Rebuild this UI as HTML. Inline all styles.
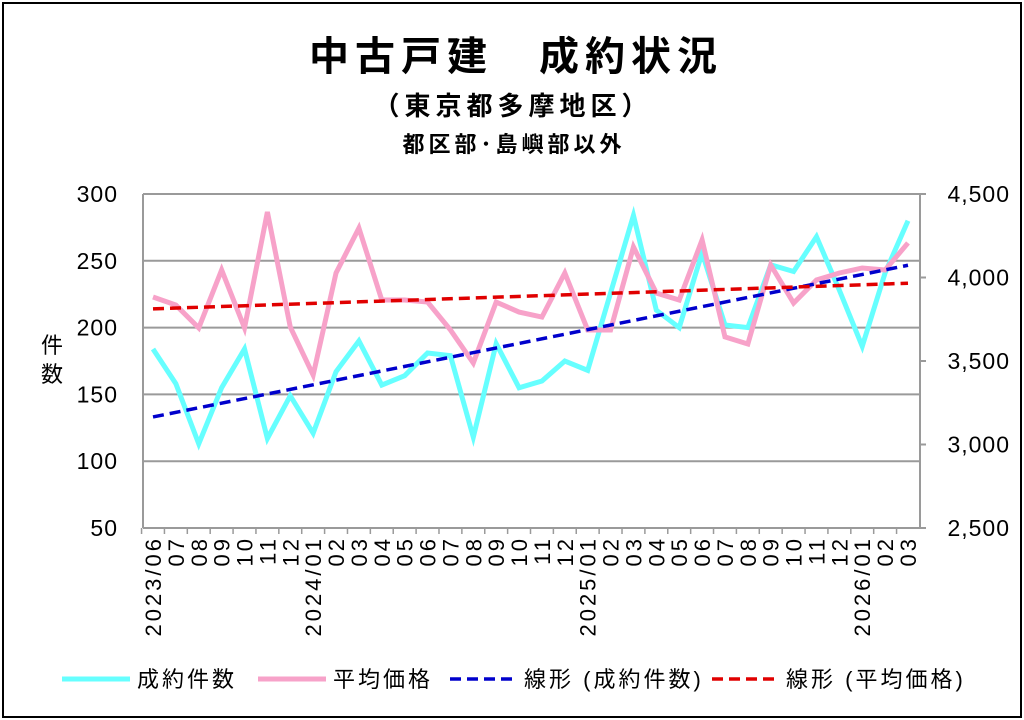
<!DOCTYPE html>
<html><head><meta charset="utf-8">
<style>
html,body{margin:0;padding:0;background:#fff}
body{width:1024px;height:720px;overflow:hidden;font-family:"Liberation Sans","Noto Sans CJK JP",sans-serif}
#frame{position:absolute;left:2px;top:2px;width:1016px;height:712px;border:2px solid #000}
</style></head>
<body>
<div id="frame"></div>
<svg id="chart" width="1024" height="720" style="position:absolute;left:0;top:0"
 font-family="Liberation Sans, Noto Sans CJK JP, sans-serif">
<text x="516" y="70" text-anchor="middle" font-size="40" font-weight="bold" letter-spacing="6">中古戸建　成約状況</text>
<text x="513" y="115" text-anchor="middle" font-size="26" font-weight="bold" letter-spacing="5">（東京都多摩地区）</text>
<text x="514" y="152" text-anchor="middle" font-size="22" font-weight="bold" letter-spacing="4">都区部･島嶼部以外</text>
<text x="52" y="353" text-anchor="middle" font-size="22">件</text>
<text x="52" y="382" text-anchor="middle" font-size="22">数</text>
<g id="grid"></g><g id="axes"></g><g id="series"></g>
<g id="legend" font-size="22" letter-spacing="3">
 <line x1="62" y1="679" x2="130" y2="679" stroke="#66ffff" stroke-width="5"/>
 <text x="137" y="687">成約件数</text>
 <line x1="258" y1="679" x2="326" y2="679" stroke="#f7a2c9" stroke-width="5"/>
 <text x="333" y="687">平均価格</text>
 <line x1="450" y1="679" x2="518" y2="679" stroke="#0000cc" stroke-width="3.5" stroke-dasharray="11,6"/>
 <text x="524" y="687">線形 (成約件数)</text>
 <line x1="712" y1="679" x2="780" y2="679" stroke="#e00000" stroke-width="3.5" stroke-dasharray="11,6"/>
 <text x="786" y="687">線形 (平均価格)</text>
</g>
</svg>
<script>
const categories=["2023/06","07","08","09","10","11","12","2024/01","02","03","04","05","06","07","08","09","10","11","12","2025/01","02","03","04","05","06","07","08","09","10","11","12","2026/01","02","03"];
const countValues=[184,158,113,155,184,117,149,121,167,190,157,164,181,179,118,188,155,160,175,168,226,284,213,200,256,202,200,247,242,268,228,186,241,280];
const priceValues=[3883,3835,3698,4045,3698,4392,3704,3416,4027,4296,3865,3865,3853,3686,3488,3853,3793,3763,4027,3686,3686,4183,3907,3865,4225,3644,3602,4075,3847,3985,4027,4057,4045,4207];
const leftTicks=[50,100,150,200,250,300];
const rightTicks=[2500,3000,3500,4000,4500];
const rightTickLabels=["2,500","3,000","3,500","4,000","4,500"];

const NS="http://www.w3.org/2000/svg";
const L=143,R=920,T=194,B=528,x0=153,dx=(908-153)/33;
const xs=i=>x0+i*dx;
const yL=v=>B-(v-50)/250*(B-T);
const yR=v=>B-(v-2500)/2000*(B-T);
function mk(tag,attrs,parent){const e=document.createElementNS(NS,tag);for(const k in attrs)e.setAttribute(k,attrs[k]);parent.appendChild(e);return e;}
const grid=document.getElementById('grid'),axes=document.getElementById('axes'),ser=document.getElementById('series');

leftTicks.forEach(v=>{
 const g=mk('line',{x1:L,x2:R,y1:yL(v),y2:yL(v),stroke:'#9a9a9a','stroke-width':2},grid);
 
 
 const t=mk('text',{x:118,y:yL(v)+8,'text-anchor':'end','font-size':23,'letter-spacing':1},axes);
 t.textContent=v;
 
 
});
const la=mk('line',{x1:L,x2:L,y1:T,y2:B,stroke:'#9a9a9a','stroke-width':2},axes);


const ra=mk('line',{x1:R,x2:R,y1:T,y2:B,stroke:'#9a9a9a','stroke-width':2},axes);


rightTicks.forEach((v,i)=>{
 mk('line',{x1:R,x2:R+6,y1:yR(v),y2:yR(v),stroke:'#9a9a9a','stroke-width':2},axes);
 const t=mk('text',{x:1010,y:yR(v)+8,'font-size':23,'text-anchor':'end','letter-spacing':1},axes);
 t.textContent=rightTickLabels[i];
 
 
});
categories.forEach((c,i)=>{
 mk('line',{x1:xs(i)-dx/2,x2:xs(i)-dx/2,y1:B,y2:B+6,stroke:'#9a9a9a','stroke-width':1.5},axes);
 const t=mk('text',{transform:`translate(${xs(i)+8},${B+8}) rotate(-90)`,'text-anchor':'end','font-size':22,'letter-spacing':3},axes);
 t.textContent=c;
 
 
});
function trend(vals){const n=vals.length;let sx=0,sy=0,sxy=0,sxx=0;vals.forEach((v,i)=>{sx+=i;sy+=v;sxy+=i*v;sxx+=i*i});const b=(n*sxy-sx*sy)/(n*sxx-sx*sx);const a=(sy-b*sx)/n;return [a,a+b*(n-1)];}
const tc=trend(countValues),tp=trend(priceValues);
const n=categories.length-1;
const p1=mk('polyline',{points:countValues.map((v,i)=>xs(i)+','+yL(v)).join(' '),fill:'none',stroke:'#66ffff','stroke-width':5},ser);


const p2=mk('polyline',{points:priceValues.map((v,i)=>xs(i)+','+yR(v)).join(' '),fill:'none',stroke:'#f7a2c9','stroke-width':5},ser);


const t1=mk('line',{x1:xs(0),y1:yL(tc[0]),x2:xs(n),y2:yL(tc[1]),stroke:'#0000cc','stroke-width':3.5,'stroke-dasharray':'11,6'},ser);


const t2=mk('line',{x1:xs(0),y1:yR(tp[0]),x2:xs(n),y2:yR(tp[1]),stroke:'#e00000','stroke-width':3.5,'stroke-dasharray':'11,6'},ser);


</script>
</body></html>
